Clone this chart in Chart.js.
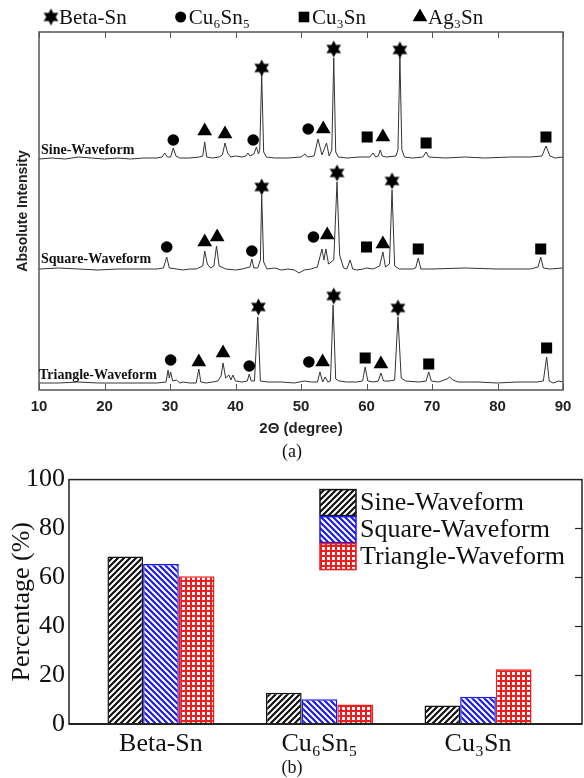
<!DOCTYPE html>
<html><head><meta charset="utf-8">
<script src="https://cdn.jsdelivr.net/npm/chart.js@4.4.1/dist/chart.umd.min.js"></script>
<style>
html,body{margin:0;padding:0;background:#fff;}
#wrap{position:relative;width:584px;height:778px;overflow:hidden;background:#fff;}
#c1{position:absolute;left:0;top:0;}
#c2{position:absolute;left:0;top:460px;}
.cap{position:absolute;font-family:"Liberation Serif","Times New Roman",serif;font-size:18px;line-height:22px;color:#111;width:60px;text-align:center;}
</style></head><body>
<div id="wrap">
<canvas id="c1" width="584" height="450" style="width:584px;height:450px"></canvas>
<div class="cap" style="left:262px;top:440px;">(a)</div>
<canvas id="c2" width="584" height="318" style="width:584px;height:318px"></canvas>
<div class="cap" style="left:262px;top:756px;">(b)</div>
</div>
<script>
// ---------- (a) XRD patterns: [2theta, intensity (a.u.)] ----------
const sineTrace = [[10,231],[12,232],[14,231],[16,233],[18,232],[20,231],[22,232],[24,231],[26,232],[28,232],[28.8,233],[29.2,237],[29.6,233],[30.1,233],[30.5,242],[30.9,234],[31.5,232],[33,232],[34.5,233],[35.0,234],[35.3,248],[35.6,233],[36.5,232],[37.5,233],[38.0,235],[38.4,247],[38.8,237],[39.3,233],[40,234],[41,233],[41.6,234],[41.9,237],[42.2,234],[42.8,236],[43.2,243],[43.5,236],[43.7,240],[44.0,315],[44.3,238],[44.7,233],[46,232],[48,232],[50,233],[50.6,236],[51,233],[52,234],[52.6,251],[53.2,235],[53.9,247],[54.3,234],[54.7,240],[55.0,332],[55.3,238],[55.7,233],[57,232],[59,233],[60.5,233],[61.0,237],[61.4,233],[61.8,234],[62.1,240],[62.4,234],[63,233],[64.5,234],[64.8,240],[65.1,333],[65.4,240],[65.8,233],[67,232],[68.6,233],[69.1,238],[69.5,233],[72,232],[75,233],[78,232],[82,233],[85,233],[86.8,234],[87.4,244],[88,234],[88.8,232],[90,233]];
const squareTrace = [[10,121],[13,122],[16,121],[19,120],[22,121],[25,121],[28,121],[29.0,122],[29.5,133],[29.9,122],[31,121],[32,120],[33,121],[34,121],[35.0,124],[35.3,139],[35.7,126],[36.2,122],[36.7,124],[37.1,144],[37.5,124],[38.5,121],[40,120],[41,121],[42.2,123],[42.5,131],[42.8,122],[43.4,122],[43.8,130],[44.0,195],[44.3,128],[44.8,121],[46,122],[47,120],[48,121],[49,120],[49.7,117],[50.5,120],[51.5,121],[52.5,123],[53.2,141],[53.5,130],[53.8,141],[54.2,126],[55.0,130],[55.5,208],[55.9,135],[56.5,122],[57.0,121],[57.5,130],[57.9,121],[58.5,120],[59.5,121],[60,122],[61,121],[62,124],[62.5,138],[62.9,123],[63.5,126],[63.9,200],[64.3,124],[65,121],[67,121],[67.5,122],[67.9,132],[68.3,121],[70,121],[75,122],[80,121],[85,121],[86.2,123],[86.6,133],[87.0,122],[88,121],[90,122]];
const triangleTrace = [[10,7],[13,7],[16,8],[19,7],[22,7],[25,7],[28,7],[29.4,8],[29.7,20],[29.9,12],[30.1,18],[30.4,9],[31,10],[31.5,7],[32,8],[33,7],[34,7],[34.4,21],[34.7,8],[35.5,7],[36.5,8],[37.3,9],[37.8,14],[38.1,27],[38.5,12],[39.0,15],[39.3,10],[39.6,15],[40.0,9],[41,8],[41.8,9],[42.1,16],[42.4,9],[42.9,9],[43.4,73],[43.8,9],[45,8],[47,8],[49,7],[50.5,9],[51.5,8],[52.5,8],[52.9,18],[53.3,8],[53.7,13],[54.1,8],[54.5,9],[54.9,85],[55.3,11],[55.8,9],[57,8],[58.5,8],[59.4,9],[59.8,23],[60.2,9],[61,8],[61.8,9],[62.2,17],[62.6,9],[63.5,9],[64.3,10],[64.8,73],[65.3,12],[66,9],[68,8],[69.1,9],[69.5,18],[69.9,9],[71,8],[72.3,11],[72.7,13],[73.2,10],[74,8],[77,8],[80,7],[83,8],[86,8],[87.0,9],[87.5,33],[87.9,9],[88.5,7],[89.3,9],[90,8]];
const traceNames = ['Sine-Waveform','Square-Waveform','Triangle-Waveform'];

// phase markers: [2theta, intensity]
const betaSnPeaks = [[44.0,322],[55.0,341],[65.1,340],[44.0,203],[55.5,217],[63.9,209],[43.5,83],[55.0,94],[64.8,82]];
const cu6sn5Peaks = [[30.5,250],[42.7,250],[51.1,261],[29.5,143],[42.5,139],[51.9,153],[30.1,30],[42.1,24],[51.2,28]];
const cu3snPeaks  = [[60.1,253],[69.1,247],[87.4,253],[60.0,143],[67.9,141],[86.6,141],[59.8,32],[69.5,26],[87.5,42]];
const ag3snPeaks  = [[35.3,259],[38.4,256],[53.4,261],[62.5,253],[35.3,148],[37.2,153],[54.0,155],[62.5,146],[34.4,28],[38.1,37],[53.3,28],[62.2,26]];
const phaseNames = ['Beta-Sn','Cu₆Sn₅','Cu₃Sn','Ag₃Sn'];

// ---------- (b) phase percentages ----------
const phases = ['Beta-Sn','Cu₆Sn₅','Cu₃Sn'];
const sinePct = [68.5,12.8,7.6];
const squarePct = [65.5,10.1,11.2];
const trianglePct = [60.5,8.0,22.4];

const SERIF = '"Liberation Serif","Times New Roman","DejaVu Serif",serif';
const SANS = '"Liberation Sans",Arial,"DejaVu Sans",sans-serif';

function starCanvas(R){
  const s = Math.ceil(2*R+2);
  const c = document.createElement('canvas'); c.width = c.height = s;
  const g = c.getContext('2d'); g.fillStyle = '#000'; g.beginPath();
  for (let i=0;i<12;i++){
    const r = i%2 ? R*0.55 : R, a = -Math.PI/2 + i*Math.PI/6;
    const px = s/2 + r*Math.cos(a), py = s/2 + r*Math.sin(a);
    if (i) g.lineTo(px,py); else g.moveTo(px,py);
  }
  g.closePath(); g.fill(); return c;
}
const starImg = starCanvas(8.5);
const toXY = arr => arr.map(([x,y]) => ({x, y}));

const frame1 = {
  id:'frame1',
  afterDatasetsDraw(chart){
    const {ctx, chartArea:a} = chart; const x = chart.scales.x;
    ctx.save(); ctx.strokeStyle = '#555'; ctx.lineWidth = 1.5;
    ctx.strokeRect(a.left, a.top, a.right-a.left, a.bottom-a.top);
    ctx.lineWidth = 1;
    x.ticks.forEach(t => {
      const px = Math.round(x.getPixelForValue(t.value)) + 0.5;
      ctx.beginPath(); ctx.moveTo(px, a.top); ctx.lineTo(px, a.top+6);
      ctx.moveTo(px, a.bottom); ctx.lineTo(px, a.bottom-6); ctx.stroke();
    });
    ctx.restore();
  }
};
const legend1 = {
  id:'legend1',
  afterDraw(chart){
    const ctx = chart.ctx; ctx.save();
    ctx.font = '21px ' + SERIF; ctx.fillStyle = '#111'; ctx.textBaseline = 'middle';
    let x = 43; const y = 17;
    chart.data.datasets.slice(3).forEach(ds => {
      ctx.fillStyle = '#000';
      Chart.helpers.drawPoint(ctx, {pointStyle: ds.pointStyle, radius: ds.legendRadius, rotation:0, borderWidth:0}, x+8, y);
      ctx.fillStyle = '#111';
      ctx.fillText(ds.label, x+16, y+1);
      x += 16 + ctx.measureText(ds.label).width + 46;
    });
    ctx.restore();
  }
};
const traceLabels = {
  id:'traceLabels',
  afterDatasetsDraw(chart, args, opts){
    const ctx = chart.ctx, a = chart.chartArea, y = chart.scales.y;
    ctx.save(); ctx.font = 'bold 14px ' + SERIF; ctx.fillStyle = '#111'; ctx.textBaseline = 'middle';
    traceNames.forEach((t,i) => ctx.fillText(t, a.left + opts.dx[i], y.getPixelForValue(opts.at[i])));
    ctx.restore();
  }
};

new Chart(document.getElementById('c1'), {
  type:'scatter',
  data:{datasets:[
    {label:traceNames[0], data:toXY(sineTrace), showLine:true, borderColor:'#333', borderWidth:1, pointRadius:0, order:5},
    {label:traceNames[1], data:toXY(squareTrace), showLine:true, borderColor:'#333', borderWidth:1, pointRadius:0, order:5},
    {label:traceNames[2], data:toXY(triangleTrace), showLine:true, borderColor:'#333', borderWidth:1, pointRadius:0, order:5},
    {label:phaseNames[0], data:toXY(betaSnPeaks), pointStyle:starImg, pointRadius:8, backgroundColor:'#000', borderWidth:0, order:1},
    {label:phaseNames[1], data:toXY(cu6sn5Peaks), pointStyle:'circle', pointRadius:5.8, legendRadius:5.5, backgroundColor:'#000', borderWidth:0, order:1},
    {label:phaseNames[2], data:toXY(cu3snPeaks), pointStyle:'rect', pointRadius:7.8, legendRadius:7.5, backgroundColor:'#000', borderWidth:0, order:1},
    {label:phaseNames[3], data:toXY(ag3snPeaks), pointStyle:'triangle', pointRadius:8.5, legendRadius:8.5, backgroundColor:'#000', borderWidth:0, order:1}
  ]},
  options:{
    responsive:false, animation:false, events:[],
    layout:{padding:{top:32, right:21, left:0, bottom:0}},
    plugins:{legend:{display:false}, tooltip:{enabled:false}, traceLabels:{at:[240,131,15], dx:[2,2,0]}},
    scales:{
      x:{type:'linear', min:10, max:90, offset:false,
        ticks:{stepSize:10, color:'#222', padding:8, maxRotation:0, font:{family:SANS, size:15, weight:'bold'}},
        grid:{display:false, drawTicks:false}, border:{display:false},
        title:{display:true, text:'2Θ (degree)', color:'#222', font:{family:SANS, size:15, weight:'bold'}, padding:{top:0, bottom:12}},
        afterFit(s){ s.height = 60; }},
      y:{min:0, max:358,
        ticks:{display:false}, grid:{display:false, drawTicks:false}, border:{display:false},
        title:{display:true, text:'Absolute Intensity', color:'#222', font:{family:SANS, size:14, weight:'bold'}, padding:{top:15, bottom:0}},
        afterFit(s){ s.width = 39; }}
    }
  },
  plugins:[frame1, traceLabels, legend1]
});

// ---------- bar chart ----------
const ctx2 = document.getElementById('c2').getContext('2d');
function hatch(color, dir, p, lw){
  const c = document.createElement('canvas'); c.width = c.height = p;
  const g = c.getContext('2d'); g.fillStyle = '#fff'; g.fillRect(0,0,p,p);
  g.strokeStyle = color; g.lineWidth = lw; g.beginPath();
  if (dir > 0){ g.moveTo(-1,p+1); g.lineTo(p+1,-1); g.moveTo(-1,1); g.lineTo(1,-1); g.moveTo(p-1,p+1); g.lineTo(p+1,p-1); }
  else { g.moveTo(-1,-1); g.lineTo(p+1,p+1); g.moveTo(p-1,-1); g.lineTo(p+1,1); g.moveTo(-1,p-1); g.lineTo(1,p+1); }
  g.stroke(); return ctx2.createPattern(c,'repeat');
}
function gridPat(color, p, lw){
  const c = document.createElement('canvas'); c.width = c.height = p;
  const g = c.getContext('2d'); g.fillStyle = '#fff'; g.fillRect(0,0,p,p);
  g.fillStyle = color; g.fillRect(0,0,p,lw); g.fillRect(0,0,lw,p);
  return ctx2.createPattern(c,'repeat');
}
const patSine = hatch('#111', 1, 6, 2.2);
const patSquare = hatch('#1a1aee', -1, 6, 2.2);
const patTri = gridPat('#ee1c1c', 5, 2);

const frame2 = {
  id:'frame2',
  afterDatasetsDraw(chart){
    const {ctx, chartArea:a} = chart; const y = chart.scales.y;
    ctx.save(); ctx.strokeStyle = '#222'; ctx.lineWidth = 1.5;
    ctx.strokeRect(a.left, a.top, a.right-a.left, a.bottom-a.top);
    ctx.lineWidth = 2.2; ctx.beginPath(); ctx.moveTo(a.left, a.bottom); ctx.lineTo(a.right, a.bottom); ctx.stroke();
    ctx.lineWidth = 1.2;
    y.ticks.forEach(t => {
      if (t.value <= 0 || t.value >= 100) return;
      const py = Math.round(y.getPixelForValue(t.value)) + 0.5;
      ctx.beginPath(); ctx.moveTo(a.right, py); ctx.lineTo(a.right-7, py); ctx.stroke();
    });
    ctx.restore();
  }
};
const legend2 = {
  id:'legend2',
  afterDraw(chart){
    const ctx = chart.ctx, a = chart.chartArea; ctx.save();
    ctx.font = '26px ' + SERIF; ctx.textBaseline = 'middle';
    chart.data.datasets.forEach((ds,i) => {
      const x = a.right - 262, y = a.top + 10 + i*27;
      ctx.fillStyle = ds.backgroundColor; ctx.fillRect(x, y, 36, 26);
      ctx.strokeStyle = ds.borderColor; ctx.lineWidth = 1.5; ctx.strokeRect(x, y, 36, 26);
      ctx.fillStyle = '#111'; ctx.fillText(ds.label, x + 40, y + 14);
    });
    ctx.restore();
  }
};
const toBars = vals => vals.map((v,i) => ({x:i+1, y:v}));
new Chart(ctx2, {
  type:'bar',
  data:{datasets:[
    {label:'Sine-Waveform', data:toBars(sinePct), backgroundColor:patSine, borderColor:'#111', borderWidth:1.5},
    {label:'Square-Waveform', data:toBars(squarePct), backgroundColor:patSquare, borderColor:'#1a1aee', borderWidth:1.5},
    {label:'Triangle-Waveform', data:toBars(trianglePct), backgroundColor:patTri, borderColor:'#ee1c1c', borderWidth:1.5}
  ]},
  options:{
    responsive:false, animation:false, events:[],
    layout:{padding:{top:17, right:2, left:0, bottom:0}},
    datasets:{bar:{categoryPercentage:0.675, barPercentage:1.0}},
    plugins:{legend:{display:false}, tooltip:{enabled:false}},
    scales:{
      x:{type:'linear', min:0.42, max:3.656, offset:false,
        afterBuildTicks(s){ s.ticks = phases.map((p,i) => ({value:i+1})); },
        ticks:{autoSkip:false, maxRotation:0, padding:5, color:'#111', font:{family:SERIF, size:26},
          callback:(v) => phases[Math.round(v)-1]},
        grid:{display:false, drawTicks:false}, border:{display:false},
        afterFit(s){ s.height = 54; }},
      y:{min:0, max:100,
        ticks:{stepSize:20, padding:4, color:'#111', font:{family:SERIF, size:26}},
        grid:{display:false, drawTicks:false}, border:{display:false},
        title:{display:true, text:'Percentage (%)', color:'#111', font:{family:SERIF, size:26}, padding:{top:7, bottom:0}},
        afterFit(s){ s.width = 69; }}
    }
  },
  plugins:[frame2, legend2]
});
</script>
</body></html>
